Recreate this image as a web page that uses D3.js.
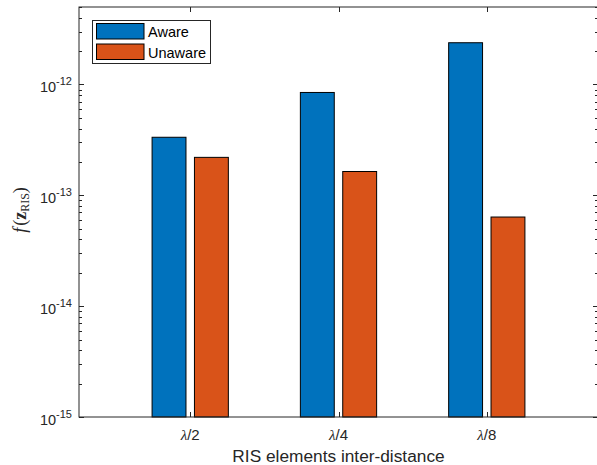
<!DOCTYPE html>
<html>
<head>
<meta charset="utf-8">
<script src="https://cdn.jsdelivr.net/npm/d3@7"></script>
<style>
body { margin: 0; background: #fff; }
svg { display: block; }
</style>
</head>
<body>
<svg id="chart" width="597" height="465"></svg>
<script>
const categories = ["2", "4", "8"];
const seriesNames = ["Aware", "Unaware"];
const aware = [3.34e-13, 8.47e-13, 2.38e-12];
const unaware = [2.20e-13, 1.64e-13, 6.37e-14];
const yTickExps = [-15, -14, -13, -12];
const colors = ["#0072BD", "#D95319"];

const svg = d3.select("#chart");
const L = 79, R = 598, T = 7, B = 417;
const axisColor = "#262626";
const sans = "Liberation Sans, Arial, Helvetica, sans-serif";
const serif = "Liberation Serif, DejaVu Serif, serif";

const x = d3.scaleLinear().domain([0.25, 3.75]).range([L, R]);
const y = d3.scaleLog().domain([1e-15, 5e-12]).range([B, T]);

const groupW = 2 / 3.5; // MATLAB grouped bar logic
const barW = groupW / 2 * 0.8;
const offsets = [-groupW / 4, groupW / 4];

const series = [aware, unaware];
series.forEach((vals, si) => {
  svg.append("g").selectAll("rect").data(vals).join("rect")
    .attr("x", (d, i) => x(i + 1 + offsets[si] - barW / 2))
    .attr("width", x(barW) - x(0))
    .attr("y", d => y(d))
    .attr("height", d => y(1e-15) - y(d))
    .attr("fill", colors[si])
    .attr("stroke", "#000")
    .attr("stroke-width", 1);
});

// axes box
const g = svg.append("g");
g.append("rect").attr("x", L).attr("y", T).attr("width", R - L).attr("height", B - T)
  .attr("fill", "none").attr("stroke", axisColor).attr("stroke-width", 1);

// x ticks (inward, top & bottom)
[1, 2, 3].forEach((v, i) => {
  const px = Math.round(x(v)) + 0.5;
  g.append("line").attr("x1", px).attr("x2", px).attr("y1", B).attr("y2", B - 5).attr("stroke", axisColor);
  g.append("line").attr("x1", px).attr("x2", px).attr("y1", T).attr("y2", T + 5).attr("stroke", axisColor);
  const t = g.append("text").attr("x", x(v)).attr("y", B + 23).attr("text-anchor", "middle")
    .attr("font-size", 15).attr("fill", axisColor);
  t.append("tspan").attr("font-family", serif).attr("font-style", "italic").text("\u03BB");
  t.append("tspan").attr("font-family", sans).text("/" + categories[i]);
});

// y ticks, major and minor
const majors = yTickExps.map(e => Math.pow(10, e));
const minors = [];
for (let e = -15; e <= -12; e++) {
  for (let m = 2; m <= 9; m++) {
    const v = m * Math.pow(10, e);
    if (v <= 5e-12) minors.push(v);
  }
}
majors.forEach((v, i) => {
  const py = Math.round(y(v)) + 0.5;
  g.append("line").attr("x1", L).attr("x2", L + 5).attr("y1", py).attr("y2", py).attr("stroke", axisColor);
  g.append("line").attr("x1", R).attr("x2", R - 5).attr("y1", py).attr("y2", py).attr("stroke", axisColor);
  const t = g.append("text").attr("x", 72).attr("y", y(v) + 8).attr("text-anchor", "end")
    .attr("font-family", sans).attr("font-size", 14.5).attr("fill", axisColor);
  t.append("tspan").text("10");
  t.append("tspan").attr("dy", -7).attr("font-size", 11).text(String(yTickExps[i]));
});
minors.forEach(v => {
  const py = Math.round(y(v)) + 0.5;
  g.append("line").attr("x1", L).attr("x2", L + 3).attr("y1", py).attr("y2", py).attr("stroke", axisColor);
  g.append("line").attr("x1", R).attr("x2", R - 3).attr("y1", py).attr("y2", py).attr("stroke", axisColor);
});

// x label
svg.append("text").attr("x", x(2)).attr("y", 462).attr("text-anchor", "middle")
  .attr("font-family", sans).attr("font-size", 17.3).attr("fill", axisColor)
  .text("RIS elements inter-distance");

// y label (LaTeX style)
const yl = svg.append("text").attr("transform", "translate(26,210) rotate(-90)")
  .attr("text-anchor", "middle")
  .attr("font-family", serif).attr("font-size", 18).attr("fill", axisColor);
yl.append("tspan").attr("font-style", "italic").text("f");
yl.append("tspan").attr("dx", 2).text("(");
yl.append("tspan").attr("font-weight", "bold").text("z");
yl.append("tspan").attr("font-size", 12).attr("dy", 3).text("RIS");
yl.append("tspan").attr("dy", -3).text(")");

// legend
const lg = svg.append("g");
lg.append("rect").attr("x", 92.5).attr("y", 20.5).attr("width", 118).attr("height", 43)
  .attr("fill", "#fff").attr("stroke", axisColor).attr("stroke-width", 1);
seriesNames.forEach((n, i) => {
  const yy = 23.5 + i * 20.5;
  lg.append("rect").attr("x", 96.5).attr("y", yy).attr("width", 47.5).attr("height", 15.5)
    .attr("fill", colors[i]).attr("stroke", "#000").attr("stroke-width", 1);
  lg.append("text").attr("x", 148).attr("y", yy + 13.5)
    .attr("font-family", sans).attr("font-size", 14.5).attr("fill", "#000")
    .text(n);
});
</script>
</body>
</html>
